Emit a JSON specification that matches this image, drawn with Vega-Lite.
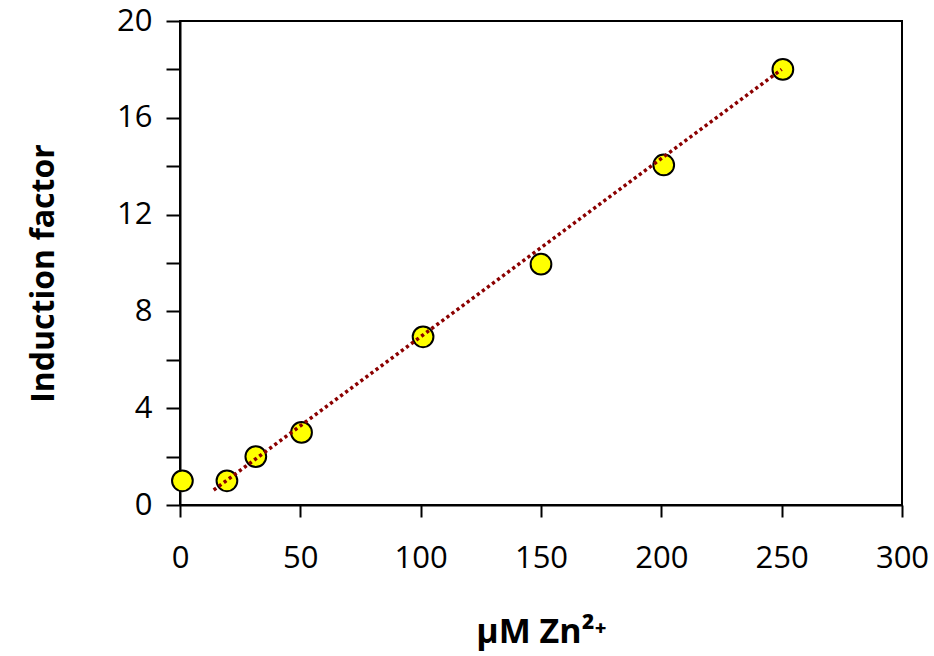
{
  "$schema": "https://vega.github.io/schema/vega-lite/v6.json",
  "width": 722,
  "height": 484,
  "autosize": "none",
  "padding": {"left": 180, "top": 21, "right": 32, "bottom": 151},
  "background": "white",
  "config": {
    "view": {"stroke": "black", "strokeWidth": 2},
    "font": "Open Sans",
    "axis": {
      "grid": false,
      "domainColor": "black",
      "domainWidth": 2,
      "tickColor": "black",
      "tickWidth": 2,
      "labelColor": "black",
      "labelFont": "Open Sans",
      "labelFontSize": 31,
      "labelFlush": false,
      "labelOverlap": false,
      "titleColor": "black",
      "titleFont": "Open Sans",
      "titleFontSize": 32,
      "titleFontWeight": "bold"
    }
  },
  "datasets": {
    "points": [
      {"zn": 1, "factor": 1.0},
      {"zn": 19.5, "factor": 1.0},
      {"zn": 31.5, "factor": 2.0},
      {"zn": 50.5, "factor": 3.0},
      {"zn": 101, "factor": 6.95},
      {"zn": 150, "factor": 9.95},
      {"zn": 201, "factor": 14.05},
      {"zn": 250.5, "factor": 18.0}
    ],
    "trend": [
      {"zn": 14, "factor": 0.62},
      {"zn": 250, "factor": 18.0}
    ]
  },
  "layer": [
    {
      "data": {"name": "points"},
      "mark": {"type": "point", "shape": "circle", "filled": true, "fill": "#FFFF00", "stroke": "black", "strokeWidth": 2, "size": 430, "opacity": 1},
      "encoding": {
        "x": {
          "field": "zn", "type": "quantitative",
          "scale": {"domain": [0, 300], "nice": false, "zero": false},
          "axis": {"title": "μM Zn²⁺", "titleFontSize": 34, "values": [0, 50, 100, 150, 200, 250, 300], "tickSize": 12, "labelPadding": 26, "titlePadding": 42}
        },
        "y": {
          "field": "factor", "type": "quantitative",
          "scale": {"domain": [0, 20], "nice": false},
          "axis": {
            "title": "Induction factor",
            "titleY": 252,
            "values": [0, 2, 4, 6, 8, 10, 12, 14, 16, 18, 20],
            "labelExpr": "datum.value % 4 === 0 ? datum.label : ''",
            "tickSize": 14, "labelPadding": 14, "titlePadding": 56
          }
        }
      }
    },
    {
      "data": {"name": "trend"},
      "mark": {"type": "line", "stroke": "#8B0000", "strokeWidth": 3.5, "strokeDash": [3.2, 3.1], "strokeCap": "butt"},
      "encoding": {
        "x": {"field": "zn", "type": "quantitative"},
        "y": {"field": "factor", "type": "quantitative"}
      }
    }
  ]
}
